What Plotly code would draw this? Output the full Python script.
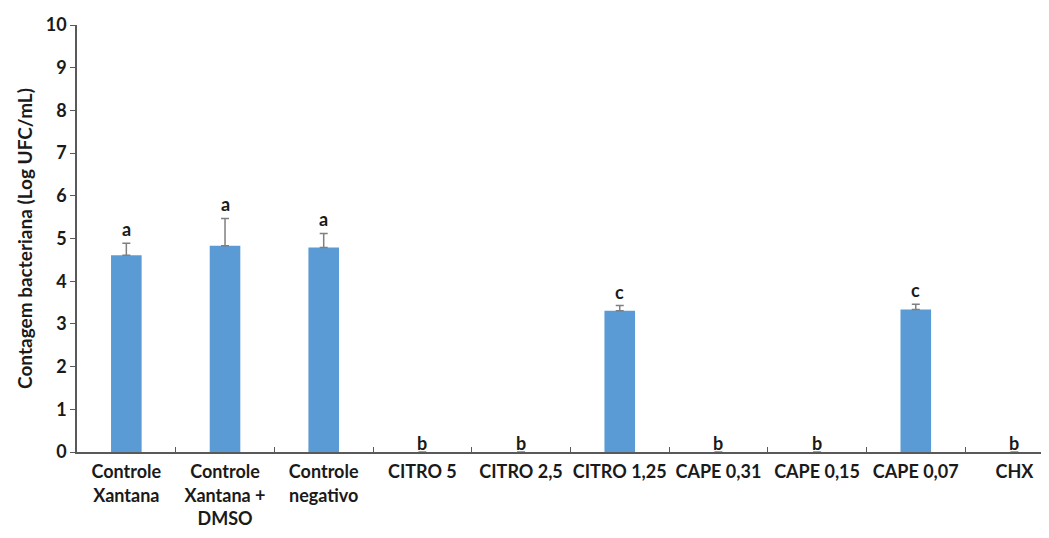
import plotly.graph_objects as go

categories = ["Controle<br>Xantana", "Controle<br>Xantana +<br>DMSO", "Controle<br>negativo",
              "CITRO 5", "CITRO 2,5", "CITRO 1,25", "CAPE 0,31", "CAPE 0,15", "CAPE 0,07", "CHX"]
values = [4.61, 4.83, 4.79, 0, 0, 3.31, 0, 0, 3.34, 0]
errors = [0.28, 0.64, 0.33, 0, 0, 0.12, 0, 0, 0.12, 0]
letters = ["a", "a", "a", "b", "b", "c", "b", "b", "c", "b"]
y_ticks = list(range(0, 11))

font_family = "Lato, 'Open Sans', Arial, sans-serif"
ink = "#1a1a1a"

fig = go.Figure()
fig.add_trace(go.Bar(
    x=categories, y=values,
    marker=dict(color="#5B9BD5", line=dict(width=0)),
    width=0.31,
    error_y=dict(type="data", array=errors, arrayminus=[0]*len(errors), symmetric=False,
                 visible=True, color="#7f7f7f", thickness=1.5, width=4),
    hoverinfo="skip",
))

for c, v, e, l in zip(categories, values, errors, letters):
    fig.add_annotation(x=c, y=v + e, text="<b>%s</b>" % l, showarrow=False,
                       yanchor="bottom", yshift=1 if v > 0 else -4,
                       font=dict(family=font_family, size=18, color=ink))

fig.update_layout(
    width=1041, height=530,
    margin=dict(l=69, r=0, t=17, b=86),
    plot_bgcolor="white", paper_bgcolor="white",
    showlegend=False,
    font=dict(family=font_family, color=ink),
    xaxis=dict(
        range=[-0.5, 9.35],
        automargin=False,
        tickangle=0,
        ticklabelstandoff=3,
        showline=True, linecolor="#595959", linewidth=1.5,
        ticks="inside", ticklen=5, tickcolor="#595959", tickwidth=1,
        tickson="boundaries",
        tickfont=dict(family=font_family, size=18, color=ink),
        showgrid=False, zeroline=False,
    ),
    yaxis=dict(
        range=[0, 10],
        automargin=False,
        tickvals=y_ticks,
        ticktext=["<b>%d</b>" % t for t in y_ticks],
        showline=True, linecolor="#595959", linewidth=1.5,
        ticks="outside", ticklen=5, tickcolor="#595959", tickwidth=1,
        tickfont=dict(family=font_family, size=18, color=ink),
        showgrid=False, zeroline=False,
        title=dict(text="<b>Contagem bacteriana (Log UFC/mL)</b>",
                   font=dict(family=font_family, size=19, color=ink), standoff=8),
    ),
)

fig.update_xaxes(ticktext=["<b>%s</b>" % c for c in categories], tickvals=categories)

fig.write_html("out.html")
